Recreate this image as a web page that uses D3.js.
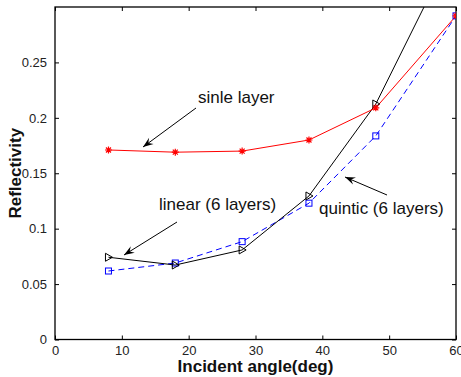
<!DOCTYPE html>
<html><head><meta charset="utf-8">
<script src="https://cdn.jsdelivr.net/npm/d3@7"></script>
<style>body{margin:0;background:#fff}svg{display:block}</style>
</head><body>
<script>
const angles = [8, 18, 28, 38, 48, 60];
const singleLayer = [0.171, 0.169, 0.170, 0.180, 0.209, 0.292];
const linear6 = [0.0742, 0.0672, 0.0808, 0.1295, 0.2125, 0.358];
const quintic6 = [0.0618, 0.069, 0.0883, 0.123, 0.1837, 0.292];
const xTicks = [0, 10, 20, 30, 40, 50, 60];
const yTicks = [0, 0.05, 0.1, 0.15, 0.2, 0.25];

const W = 461, H = 377;
const m = {l: 55, r: 5, t: 7, b: 38};
const svg = d3.select("body").append("svg").attr("width", W).attr("height", H);
const x = d3.scaleLinear().domain([0, 60]).range([m.l, 456]);
const y = d3.scaleLinear().domain([0, 0.3]).range([339.5, 7]);
const font = "Liberation Sans, Arial, sans-serif";

svg.append("defs").append("clipPath").attr("id", "clip")
  .append("rect").attr("x", x(0)).attr("y", y(0.3)).attr("width", x(60) - x(0)).attr("height", y(0) - y(0.3));

// axes
const ax = (g) => g.selectAll("text").attr("font-family", font).attr("font-size", 13).attr("fill", "#222");
svg.append("g").attr("transform", `translate(0,${y(0)})`)
  .call(d3.axisBottom(x).tickValues(xTicks).tickSize(-4).tickPadding(6).tickFormat(d3.format("d")))
  .call(g => g.select(".domain").remove()).call(ax);
svg.append("g").attr("transform", `translate(${x(0)},0)`)
  .call(d3.axisLeft(y).tickValues(yTicks).tickSize(-4).tickPadding(8).tickFormat(d => d === 0 ? "0" : String(d)))
  .call(g => g.select(".domain").remove()).call(ax);
svg.append("g").attr("transform", `translate(0,${y(0.3)})`)
  .call(d3.axisTop(x).tickValues(xTicks).tickSize(-4).tickFormat(""))
  .call(g => g.select(".domain").remove());
svg.append("g").attr("transform", `translate(${x(60)},0)`)
  .call(d3.axisRight(y).tickValues(yTicks).tickSize(-4).tickFormat(""))
  .call(g => g.select(".domain").remove());
svg.selectAll(".tick line").attr("stroke", "#000");
svg.append("rect").attr("x", x(0)).attr("y", y(0.3)).attr("width", x(60) - x(0)).attr("height", y(0) - y(0.3))
  .attr("fill", "none").attr("stroke", "#000").attr("stroke-width", 1.3);

const line = d3.line().x(d => x(d[0])).y(d => y(d[1]));
const plot = svg.append("g").attr("clip-path", "url(#clip)");
function series(vals, color, dash) {
  const pts = angles.map((a, i) => [a, vals[i]]);
  plot.append("path").datum(pts).attr("d", line).attr("fill", "none")
    .attr("stroke", color).attr("stroke-width", 1).attr("stroke-dasharray", dash || null);
  return pts;
}
const pQ = series(quintic6, "#0000ff", "6,4");
const pL = series(linear6, "#000", null);
const pS = series(singleLayer, "#ff0000", null);

// markers
plot.selectAll(".sq").data(pQ).join("rect").attr("x", d => x(d[0]) - 3).attr("y", d => y(d[1]) - 3)
  .attr("width", 6).attr("height", 6).attr("fill", "none").attr("stroke", "#0000ff").attr("stroke-width", 1);
plot.selectAll(".tri").data(pL).join("path")
  .attr("d", d => { const cx = x(d[0]), cy = y(d[1]); return `M${cx-3},${cy-4}L${cx+4},${cy}L${cx-3},${cy+4}Z`; })
  .attr("fill", "none").attr("stroke", "#000").attr("stroke-width", 1);
plot.selectAll(".star").data(pS).join("path")
  .attr("d", d => { const cx = x(d[0]), cy = y(d[1]); return `M${cx-3.5},${cy}L${cx+3.5},${cy}M${cx},${cy-3.5}L${cx},${cy+3.5}M${cx-2.5},${cy-2.5}L${cx+2.5},${cy+2.5}M${cx-2.5},${cy+2.5}L${cx+2.5},${cy-2.5}`; })
  .attr("fill", "none").attr("stroke", "#ff0000").attr("stroke-width", 1.2);

// annotations
const notes = [
  {text: "sinle layer", tx: 198, ty: 103, x1: 196, y1: 108, x2: 143, y2: 147},
  {text: "linear (6 layers)", tx: 159, ty: 210, x1: 177, y1: 222, x2: 124, y2: 255},
  {text: "quintic (6 layers)", tx: 319, ty: 214, x1: 387, y1: 195, x2: 345, y2: 177}
];
notes.forEach(n => {
  svg.append("text").attr("x", n.tx).attr("y", n.ty).text(n.text)
    .attr("font-family", font).attr("font-size", 17).attr("fill", "#111");
  svg.append("line").attr("x1", n.x1).attr("y1", n.y1).attr("x2", n.x2).attr("y2", n.y2)
    .attr("stroke", "#000").attr("stroke-width", 1);
  const ang = Math.atan2(n.y2 - n.y1, n.x2 - n.x1), L = 11, s = 0.35;
  const p1 = [n.x2 - L * Math.cos(ang - s), n.y2 - L * Math.sin(ang - s)];
  const p2 = [n.x2 - L * Math.cos(ang + s), n.y2 - L * Math.sin(ang + s)];
  const pm = [n.x2 - L * 0.6 * Math.cos(ang), n.y2 - L * 0.6 * Math.sin(ang)];
  svg.append("path").attr("d", `M${n.x2},${n.y2}L${p1[0]},${p1[1]}L${pm[0]},${pm[1]}L${p2[0]},${p2[1]}Z`).attr("fill", "#000");
});

// axis titles
svg.append("text").attr("x", (x(0) + x(60)) / 2).attr("y", 372).attr("text-anchor", "middle")
  .attr("font-family", font).attr("font-weight", "bold").attr("font-size", 17).attr("fill", "#111")
  .text("Incident angle(deg)");
svg.append("text").attr("transform", `translate(21,${(y(0) + y(0.3)) / 2}) rotate(-90)`).attr("text-anchor", "middle")
  .attr("font-family", font).attr("font-weight", "bold").attr("font-size", 17).attr("fill", "#111")
  .text("Reflectivity");
</script>
</body></html>
